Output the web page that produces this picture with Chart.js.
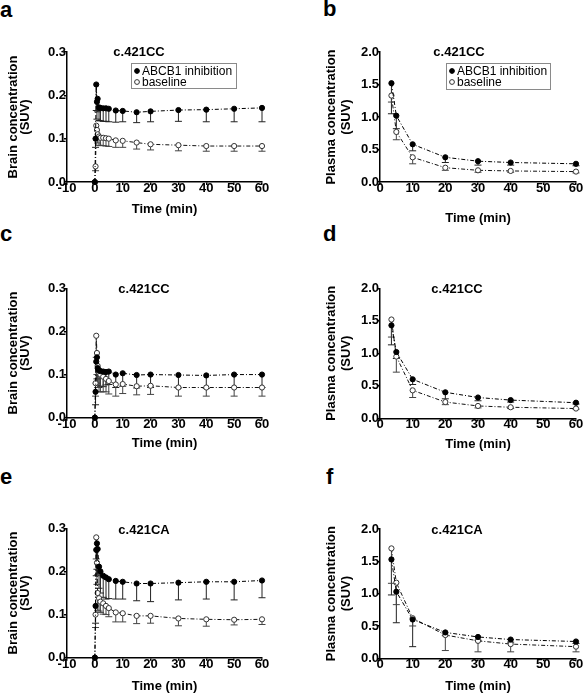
<!DOCTYPE html>
<html>
<head>
<meta charset="utf-8">
<script src="https://cdn.jsdelivr.net/npm/chart.js@4/dist/chart.umd.min.js"></script>
<style>
  body { margin: 0; background: #fff; }
  #wrap { position: relative; width: 583px; height: 693px; overflow: hidden; }
  #wrap canvas { position: absolute; }
  .lbl { position: absolute; font: bold 22px/22px "Liberation Sans", Arial, sans-serif; color: #000; }
</style>
</head>
<body>
<div id="wrap">
  <div class="lbl" style="left:0;top:-1px">a</div>
  <div class="lbl" style="left:323px;top:-2px">b</div>
  <div class="lbl" style="left:0;top:223px">c</div>
  <div class="lbl" style="left:323px;top:223px">d</div>
  <div class="lbl" style="left:0;top:466px">e</div>
  <div class="lbl" style="left:326px;top:466px">f</div>
  <canvas id="pa" width="290" height="230" style="left:0;top:0"></canvas>
  <canvas id="pb" width="293" height="230" style="left:290px;top:0"></canvas>
  <canvas id="pc" width="290" height="230" style="left:0;top:230px"></canvas>
  <canvas id="pd" width="293" height="230" style="left:290px;top:230px"></canvas>
  <canvas id="pe" width="290" height="233" style="left:0;top:460px"></canvas>
  <canvas id="pf" width="293" height="233" style="left:290px;top:460px"></canvas>
</div>
<script>
// time points (min)
const brainTime = [0, 0.25, 0.5, 0.75, 1, 1.5, 2, 3, 4, 5, 7.5, 10, 15, 20, 30, 40, 50, 60];
const plasmaTime = [3.5, 5, 10, 20, 30, 40, 60];

const seriesNames = ['ABCB1 inhibition', 'baseline'];
const brainTicks = [-10, 0, 10, 20, 30, 40, 50, 60];
const plasmaTicks = [0, 10, 20, 30, 40, 50, 60];

// a - brain, c.421CC
const aInhib   = [0, 0.10, 0.225, 0.185, 0.192, 0.172, 0.171, 0.170, 0.170, 0.169, 0.165, 0.164, 0.161, 0.163, 0.166, 0.167, 0.169, 0.171];
const aInhibSd = [0, 0.02, 0.06, 0.04, 0.03, 0.03, 0.03, 0.03, 0.03, 0.03, 0.027, 0.025, 0.024, 0.024, 0.026, 0.028, 0.030, 0.032];
const aBase    = [0, 0.036, 0.13, 0.12, 0.11, 0.105, 0.102, 0.102, 0.101, 0.100, 0.096, 0.095, 0.091, 0.087, 0.085, 0.083, 0.083, 0.083];
const aBaseSd  = [0, 0.01, 0.03, 0.02, 0.02, 0.02, 0.018, 0.018, 0.018, 0.018, 0.016, 0.015, 0.015, 0.013, 0.013, 0.012, 0.012, 0.012];

// b - plasma, c.421CC
const bInhib   = [1.52, 1.02, 0.58, 0.38, 0.32, 0.30, 0.28];
const bInhibSd = [0.47, 0.20, 0.10, 0.08, 0.06, 0.04, 0.03];
const bBase    = [1.33, 0.77, 0.38, 0.22, 0.18, 0.17, 0.16];
const bBaseSd  = [0.10, 0.12, 0.10, 0.04, 0.03, 0.02, 0.02];

// c - brain, c.421CC
const cInhib   = [0, 0.06, 0.13, 0.14, 0.115, 0.11, 0.108, 0.107, 0.106, 0.107, 0.100, 0.103, 0.099, 0.100, 0.099, 0.098, 0.100, 0.100];
const cInhibSd = [0, 0.03, 0.05, 0.05, 0.04, 0.04, 0.035, 0.035, 0.03, 0.03, 0.03, 0.03, 0.03, 0.03, 0.03, 0.03, 0.03, 0.03];
const cBase    = [0, 0.08, 0.19, 0.15, 0.12, 0.105, 0.10, 0.095, 0.09, 0.085, 0.077, 0.078, 0.073, 0.074, 0.070, 0.070, 0.070, 0.070];
const cBaseSd  = [0, 0.03, 0.05, 0.05, 0.05, 0.045, 0.04, 0.035, 0.03, 0.03, 0.027, 0.022, 0.02, 0.02, 0.02, 0.02, 0.02, 0.02];

// d - plasma, c.421CC
const dInhib   = [1.43, 1.02, 0.60, 0.40, 0.32, 0.28, 0.24];
const dInhibSd = [0.30, 0.10, 0.08, 0.10, 0.05, 0.03, 0.02];
const dBase    = [1.52, 0.95, 0.43, 0.25, 0.19, 0.17, 0.15];
const dBaseSd  = [0.27, 0.24, 0.11, 0.04, 0.03, 0.02, 0.01];

// e - brain, c.421CA
const eInhib   = [0, 0.12, 0.25, 0.265, 0.252, 0.211, 0.200, 0.190, 0.186, 0.182, 0.178, 0.176, 0.172, 0.172, 0.174, 0.176, 0.176, 0.179];
const eInhibSd = [0, 0.04, 0.06, 0.06, 0.06, 0.05, 0.05, 0.05, 0.05, 0.045, 0.042, 0.04, 0.04, 0.042, 0.04, 0.04, 0.042, 0.04];
const eBase    = [0, 0.10, 0.279, 0.22, 0.15, 0.138, 0.130, 0.126, 0.120, 0.115, 0.105, 0.103, 0.097, 0.097, 0.091, 0.089, 0.088, 0.089];
const eBaseSd  = [0, 0.03, 0.05, 0.05, 0.04, 0.03, 0.025, 0.025, 0.02, 0.02, 0.022, 0.02, 0.018, 0.017, 0.017, 0.016, 0.012, 0.012];

// f - plasma, c.421CA
const fInhib   = [1.53, 1.03, 0.60, 0.40, 0.33, 0.29, 0.26];
const fInhibSd = [0.55, 0.48, 0.42, 0.05, 0.05, 0.04, 0.03];
const fBase    = [1.70, 1.17, 0.62, 0.36, 0.27, 0.22, 0.18];
const fBaseSd  = [0.54, 0.34, 0.12, 0.24, 0.17, 0.12, 0.08];

const FONT = '"Liberation Sans", Arial, sans-serif';

function pts(xs, ys) { return xs.map((x, i) => ({ x: x, y: ys[i] })); }

// error bars (downward), drawn under the markers
const errorBars = {
  id: 'errorBars',
  beforeDatasetsDraw(chart) {
    const ctx = chart.ctx, xs = chart.scales.x, ys = chart.scales.y;
    ctx.save();
    chart.data.datasets.forEach(ds => {
      ctx.strokeStyle = ds.barColor;
      ctx.lineWidth = 1;
      ds.data.forEach((p, i) => {
        const sd = ds.sd[i];
        if (!sd) return;
        const x = xs.getPixelForValue(p.x);
        const y0 = ys.getPixelForValue(p.y);
        const y1 = ys.getPixelForValue(p.y - sd);
        ctx.beginPath();
        ctx.moveTo(x, y0); ctx.lineTo(x, y1);
        ctx.moveTo(x - 3.5, y1); ctx.lineTo(x + 3.5, y1);
        ctx.stroke();
      });
    });
    ctx.restore();
  }
};

// panel title + optional boxed legend
const panelText = {
  id: 'panelText',
  afterDraw(chart, args, o) {
    const ctx = chart.ctx;
    ctx.save();
    ctx.fillStyle = '#000';
    ctx.font = 'bold 13px ' + FONT;
    ctx.textAlign = 'center';
    ctx.textBaseline = 'middle';
    ctx.fillText(o.title, o.tx, o.ty);
    if (o.legend) {
      const L = o.legend;
      ctx.strokeStyle = '#8a8a8a';
      ctx.lineWidth = 1;
      ctx.strokeRect(L.x + 0.5, L.y + 0.5, L.w, L.h);
      ctx.font = '12px ' + FONT;
      ctx.textAlign = 'left';
      chart.data.datasets.forEach((ds, i) => {
        const cy = L.y + 8 + i * 11;
        ctx.beginPath();
        ctx.arc(L.x + 6, cy, 2.4, 0, Math.PI * 2);
        ctx.fillStyle = ds.pointBackgroundColor;
        ctx.fill();
        ctx.strokeStyle = ds.pointBorderColor;
        ctx.stroke();
        ctx.fillStyle = '#000';
        ctx.fillText(ds.label, L.x + 11, cy + 0.5);
      });
    }
    ctx.restore();
  }
};

function makePanel(id, p) {
  const datasets = [
    {
      label: seriesNames[0], data: pts(p.time, p.inhib), sd: p.inhibSd, barColor: '#222',
      borderColor: '#000', borderWidth: 1, borderDash: [4, 2, 1, 2],
      pointRadius: 2.6, pointBackgroundColor: '#000', pointBorderColor: '#000', pointBorderWidth: 1,
      clip: false
    },
    {
      label: seriesNames[1], data: pts(p.time, p.base), sd: p.baseSd, barColor: '#444',
      borderColor: '#111', borderWidth: 1, borderDash: [4, 2, 1, 2],
      pointRadius: 2.6, pointBackgroundColor: '#fff', pointBorderColor: '#333', pointBorderWidth: 1,
      clip: false
    }
  ];
  const tickFont = { family: FONT, size: 13, weight: 'bold', lineHeight: 1 };
  new Chart(document.getElementById(id), {
    type: 'line',
    data: { datasets: datasets },
    options: {
      responsive: false,
      animation: false,
      events: [],
      layout: { padding: p.pad },
      plugins: {
        legend: { display: false },
        tooltip: { enabled: false },
        panelText: { title: p.title, tx: p.tx, ty: p.ty, legend: p.legend }
      },
      scales: {
        x: {
          type: 'linear', min: p.xTicks[0], max: 60,
          afterBuildTicks: s => { s.ticks = p.xTicks.map(v => ({ value: v })); },
          afterFit: s => { s.height = p.xh; },
          border: { color: '#000', width: 1.5 },
          grid: { drawOnChartArea: false, color: '#000', lineWidth: 1.5, tickLength: 3 },
          ticks: { color: '#000', font: tickFont, padding: -3, maxRotation: 0, autoSkip: false },
          title: { display: true, text: 'Time (min)', color: '#000', padding: 0,
                   font: { family: FONT, size: 13, weight: 'bold', lineHeight: 1 } }
        },
        y: {
          min: 0, max: p.yMax,
          ticks: { stepSize: p.yStep, color: '#000', font: tickFont, padding: -2,
                   callback: v => v.toFixed(1) },
          afterFit: s => { s.width = p.yw; },
          border: { color: '#000', width: 1.5 },
          grid: { drawOnChartArea: false, color: '#000', lineWidth: 1.5, tickLength: 3 },
          title: { display: true, text: p.yTitle, color: '#000', padding: { top: p.ytPad, bottom: 0 },
                   font: { family: FONT, size: 13, weight: 'bold', lineHeight: p.ytLine } }
        }
      }
    },
    plugins: [errorBars, panelText]
  });
}

const brainTitle = ['Brain concentration', '(SUV)'];
const plasmaTitle = ['Plasma concentration', '(SUV)'];

makePanel('pa', {
  time: brainTime, inhib: aInhib, inhibSd: aInhibSd, base: aBase, baseSd: aBaseSd,
  xTicks: brainTicks, yMax: 0.3, yStep: 0.1, yTitle: brainTitle, ytPad: 7.3, ytLine: 12 / 13,
  pad: { left: 0, top: 52, right: 28, bottom: 14.5 }, yw: 67, xh: 33.5,
  title: 'c.421CC', tx: 139, ty: 52,
  legend: { x: 131, y: 63, w: 105, h: 25 }
});
makePanel('pb', {
  time: plasmaTime, inhib: bInhib, inhibSd: bInhibSd, base: bBase, baseSd: bBaseSd,
  xTicks: plasmaTicks, yMax: 2, yStep: 0.5, yTitle: plasmaTitle, ytPad: 33.5, ytLine: 15 / 13,
  pad: { left: 0, top: 52, right: 7, bottom: 5.5 }, yw: 90, xh: 42.5,
  title: 'c.421CC', tx: 169, ty: 52,
  legend: { x: 156, y: 63, w: 104, h: 26 }
});
makePanel('pc', {
  time: brainTime, inhib: cInhib, inhibSd: cInhibSd, base: cBase, baseSd: cBaseSd,
  xTicks: brainTicks, yMax: 0.3, yStep: 0.1, yTitle: brainTitle, ytPad: 7.3, ytLine: 12 / 13,
  pad: { left: 0, top: 58.3, right: 28, bottom: 10.5 }, yw: 67, xh: 31.8,
  title: 'c.421CC', tx: 144, ty: 59
});
makePanel('pd', {
  time: plasmaTime, inhib: dInhib, inhibSd: dInhibSd, base: dBase, baseSd: dBaseSd,
  xTicks: plasmaTicks, yMax: 2, yStep: 0.5, yTitle: plasmaTitle, ytPad: 33.5, ytLine: 15 / 13,
  pad: { left: 0, top: 58.3, right: 7, bottom: 9.5 }, yw: 90, xh: 32.2,
  title: 'c.421CC', tx: 167, ty: 59
});
makePanel('pe', {
  time: brainTime, inhib: eInhib, inhibSd: eInhibSd, base: eBase, baseSd: eBaseSd,
  xTicks: brainTicks, yMax: 0.3, yStep: 0.1, yTitle: brainTitle, ytPad: 7.3, ytLine: 12 / 13,
  pad: { left: 0, top: 68.3, right: 28, bottom: 0.5 }, yw: 67, xh: 34.8,
  title: 'c.421CA', tx: 144, ty: 70
});
makePanel('pf', {
  time: plasmaTime, inhib: fInhib, inhibSd: fInhibSd, base: fBase, baseSd: fBaseSd,
  xTicks: plasmaTicks, yMax: 2, yStep: 0.5, yTitle: plasmaTitle, ytPad: 33.5, ytLine: 15 / 13,
  pad: { left: 0, top: 69, right: 7, bottom: 0.5 }, yw: 90, xh: 34.2,
  title: 'c.421CA', tx: 167, ty: 70
});
</script>
</body>
</html>
